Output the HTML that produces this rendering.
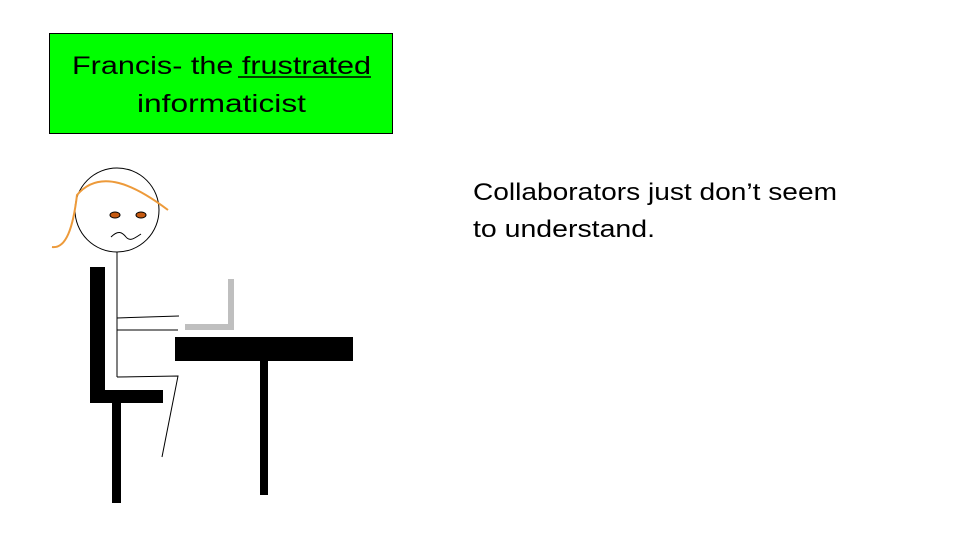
<!DOCTYPE html>
<html><head><meta charset="utf-8"><style>
html,body{margin:0;padding:0;background:#fff;}
svg{display:block;}
text{font-family:"Liberation Sans",sans-serif;fill:#000;}
</style></head><body>
<svg width="960" height="540" viewBox="0 0 960 540">
<g>
<rect x="49.5" y="33.5" width="343" height="100" fill="#00ff00" stroke="#000" stroke-width="1"/>
<text x="72" y="74" font-size="25" textLength="299" lengthAdjust="spacingAndGlyphs">Francis- the frustrated</text>
<line x1="238" y1="77" x2="371" y2="77" stroke="#000" stroke-width="1.5"/>
<text x="137" y="112" font-size="25" textLength="169" lengthAdjust="spacingAndGlyphs">informaticist</text>
</g>
<g>
<text x="473" y="200" font-size="24" textLength="364" lengthAdjust="spacingAndGlyphs">Collaborators just don’t seem</text>
<text x="473" y="237" font-size="24" textLength="182" lengthAdjust="spacingAndGlyphs">to understand.</text>
</g>
<g fill="#000">
<rect x="90" y="267" width="15" height="136"/>
<rect x="90" y="390" width="73" height="13"/>
<rect x="112" y="403" width="9" height="100"/>
</g>
<g fill="#000">
<rect x="175" y="337" width="178" height="24"/>
<rect x="260" y="361" width="8" height="134"/>
</g>
<g fill="#bfbfbf">
<rect x="228" y="279" width="6" height="51"/>
<rect x="185" y="324" width="49" height="6"/>
</g>
<g fill="none" stroke="#000" stroke-width="1">
<circle cx="117" cy="210" r="42"/>
<line x1="117" y1="252" x2="117" y2="377"/>
<line x1="117" y1="318" x2="179" y2="316"/>
<line x1="117" y1="330" x2="178" y2="330"/>
<polyline points="117,377 178,376 162,457"/>
<path d="M111,237 C118,230 122,232 126,237 C130,242 135,238 141,234"/>
<ellipse cx="115" cy="215" rx="5" ry="3" fill="#c55a11"/>
<ellipse cx="141" cy="215" rx="5" ry="3" fill="#c55a11"/>
<path d="M52,247 C66,249 73,228 77,195 C100,168 135,185 168,210" stroke="#ed9a3a" stroke-width="2"/>
</g>
</svg>
</body></html>
